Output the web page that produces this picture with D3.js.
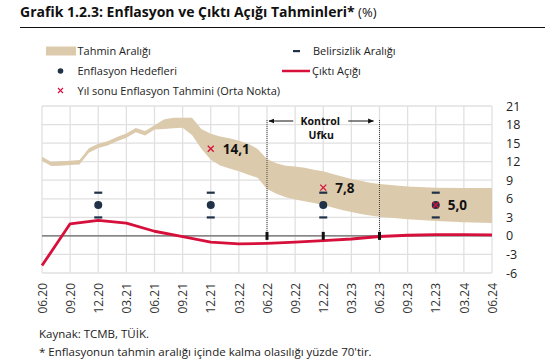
<!DOCTYPE html>
<html>
<head>
<meta charset="utf-8">
<script src="https://cdn.jsdelivr.net/npm/d3@7"></script>
<style>
  body { margin: 0; background: #fff; }
  text { font-family: "Open Sans", sans-serif; }
</style>
</head>
<body>
<div id="chart"></div>
<script>
// eksen etiketleri (çeyrekler)
var quarterLabels = ["06.20","09.20","12.20","03.21","06.21","09.21","12.21","03.22","06.22",
                     "09.22","12.22","03.23","06.23","09.23","12.23","03.24","06.24"];
var yTicks = [21, 18, 15, 12, 9, 6, 3, 0, -3, -6];

// tahmin aralığı (aylık, 06.20'den itibaren ay sayısı)
var bandMonth = [0, 1, 2, 3, 4, 5, 6, 7, 8, 9, 10, 11, 12, 13, 14, 15, 16, 17, 18, 19, 20, 21, 22, 23,
                 24, 25, 26, 27, 28, 29, 30, 31, 32, 33, 34, 35, 36, 39, 42, 45, 48];
var bandLow  = [12.1, 11.3, 11.35, 11.45, 11.55, 13.45, 14.2, 14.6, 15.3, 15.85, 16.75, 16.25, 17.2, 17.3, 17.4, 17.5, 16.3, 14.1, 12.3,
                11.4, 10.9, 10.45, 9.9, 9.4, 7.6, 6.8, 6.25, 5.9, 5.6, 5.3, 5.0, 4.6, 4.2, 3.85, 3.55, 3.3, 3.1, 2.7, 2.4, 2.2, 2.1];
var bandHigh = [12.8, 11.95, 12.05, 12.15, 12.25, 14.15, 14.9, 15.3, 16.0, 16.55, 17.45, 16.95, 17.9, 18.8, 19.1, 19.1, 19.1, 17.3, 16.5,
                16.05, 15.8, 15.4, 14.9, 14.05, 12.45, 11.75, 11.35, 11.2, 11.0, 10.7, 10.45, 10.0, 9.6, 9.2, 8.9, 8.6, 8.4, 8.0, 7.8, 7.75, 7.75];

// çıktı açığı (çeyreklik)
var outputGap = [-4.8, 1.95, 2.5, 2.05, 0.75, -0.1, -1.0, -1.3, -1.2, -1.0, -0.75, -0.5, -0.1, 0.1, 0.2, 0.2, 0.15];

// enflasyon hedefleri ve belirsizlik aralığı
var targetQuarters = ["12.20", "12.21", "12.22", "12.23"];
var targetValues   = [5, 5, 5, 5];
var targetLow      = [3, 3, 3, 3];
var targetHigh     = [7, 7, 7, 7];

// yıl sonu enflasyon tahminleri (orta nokta)
var forecastQuarters = ["12.21", "12.22", "12.23"];
var forecastValues   = [14.1, 7.8, 5.0];
var forecastLabels   = ["14,1", "7,8", "5,0"];

// kontrol ufku
var horizonQuarters = ["06.22", "06.23"];
var horizonTicks = ["06.22", "12.22", "06.23"];

var W = 545, H = 361;
var bandColor = "#dccaad", red = "#d6103b", navy = "#1f3247";

var svg = d3.select("#chart").append("svg")
    .attr("width", W).attr("height", H);

// başlık
var title = svg.append("text").attr("x", 20).attr("y", 17)
    .style("font-size", "14px").attr("fill", "#111");
title.append("tspan").style("font-weight", "bold").text("Grafik 1.2.3: Enflasyon ve Çıktı Açığı Tahminleri*");
title.append("tspan").style("font-size", "13px").text(" (%)");
svg.append("line").attr("x1", 20).attr("x2", W).attr("y1", 27.5).attr("y2", 27.5)
    .attr("stroke", "#111").attr("stroke-width", 1);

var x = d3.scaleLinear().domain([0, 48]).range([42, 492]);
var y = d3.scaleLinear().domain([-6, 21]).range([273, 106]);
function qx(q) { return x(quarterLabels.indexOf(q) * 3); }

// ızgara
var grid = svg.append("g");
grid.selectAll(".v").data(quarterLabels).enter().append("line")
    .attr("x1", function(d, i) { return x(i * 3); }).attr("x2", function(d, i) { return x(i * 3); })
    .attr("y1", y(21)).attr("y2", y(-6))
    .attr("stroke", "#e0e0e0").attr("stroke-width", 1.3);
grid.selectAll(".h").data(yTicks).enter().append("line")
    .attr("x1", x(0)).attr("x2", x(48))
    .attr("y1", function(d) { return y(d); }).attr("y2", function(d) { return y(d); })
    .attr("stroke", "#e0e0e0").attr("stroke-width", 1.3);

// sağ eksen
var yAxis = svg.append("g").attr("transform", "translate(503,0)")
    .call(d3.axisRight(y).tickValues(yTicks).tickSize(0).tickPadding(3)
        .tickFormat(function(d) { return String(d); }));
yAxis.select(".domain").remove();
yAxis.selectAll("text").style("font-size", "12.5px").attr("fill", "#222")
    .style("font-family", "'Open Sans', sans-serif");

// alt eksen (dikey etiketler)
var xAxis = svg.append("g").attr("transform", "translate(0,278)")
    .call(d3.axisBottom(x).tickValues(d3.range(0, 49, 3)).tickSize(0)
        .tickFormat(function(d) { return quarterLabels[d / 3]; }));
xAxis.select(".domain").remove();
xAxis.selectAll("text")
    .attr("transform", "rotate(-90)")
    .attr("text-anchor", "end").attr("x", -5).attr("y", 0).attr("dy", "0.35em")
    .style("font-size", "12px").attr("fill", "#333")
    .style("font-family", "'Open Sans', sans-serif");

// tahmin aralığı alanı
var bandData = bandMonth.map(function(m, i) { return { m: m, lo: bandLow[i], hi: bandHigh[i] }; });
svg.append("path").datum(bandData)
    .attr("fill", bandColor)
    .attr("d", d3.area()
        .x(function(d) { return x(d.m); })
        .y0(function(d) { return y(d.lo); })
        .y1(function(d) { return y(d.hi); }));

// sıfır çizgisi
svg.append("line").attr("x1", x(0)).attr("x2", x(48)).attr("y1", y(0)).attr("y2", y(0))
    .attr("stroke", "#666").attr("stroke-width", 1.3);

// çıktı açığı
svg.append("path").datum(outputGap)
    .attr("fill", "none").attr("stroke", red).attr("stroke-width", 2.8)
    .attr("stroke-linejoin", "round")
    .attr("d", d3.line().x(function(d, i) { return x(i * 3); }).y(function(d) { return y(d); }));

// kontrol ufku
horizonQuarters.forEach(function(q) {
  svg.append("line").attr("x1", qx(q)).attr("x2", qx(q))
      .attr("y1", 120).attr("y2", y(0) + 3)
      .attr("stroke", "#444").attr("stroke-width", 1).attr("stroke-dasharray", "1,1");
});
svg.selectAll(".htick").data(horizonTicks).enter().append("rect")
    .attr("x", function(d) { return qx(d) - 1.5; }).attr("y", y(0) - 4)
    .attr("width", 3).attr("height", 8).attr("fill", "#111");

var defs = svg.append("defs");
defs.append("marker").attr("id", "arr").attr("viewBox", "0 0 10 10")
    .attr("refX", 9).attr("refY", 5).attr("markerWidth", 6).attr("markerHeight", 6)
    .attr("orient", "auto-start-reverse")
    .append("path").attr("d", "M0,1 L10,5 L0,9 z").attr("fill", "#111");
var hx0 = qx(horizonQuarters[0]), hx1 = qx(horizonQuarters[1]), hmid = (hx0 + hx1) / 2;
svg.append("line").attr("x1", hmid - 30).attr("x2", hx0 + 2).attr("y1", 121).attr("y2", 121)
    .attr("stroke", "#111").attr("stroke-width", 1).attr("marker-end", "url(#arr)");
svg.append("line").attr("x1", hmid + 25).attr("x2", hx1 - 6).attr("y1", 121).attr("y2", 121)
    .attr("stroke", "#111").attr("stroke-width", 1).attr("marker-end", "url(#arr)");
svg.append("text").attr("x", hmid - 3).attr("y", 125).attr("text-anchor", "middle")
    .style("font-size", "10.5px").style("font-weight", "bold").attr("fill", "#111").text("Kontrol");
svg.append("text").attr("x", hmid - 2).attr("y", 139).attr("text-anchor", "middle")
    .style("font-size", "10.5px").style("font-weight", "bold").attr("fill", "#111").text("Ufku");

// hedefler ve belirsizlik aralığı
targetQuarters.forEach(function(q, i) {
  [targetLow[i], targetHigh[i]].forEach(function(v) {
    svg.append("rect").attr("x", qx(q) - 4).attr("y", y(v) - 1)
        .attr("width", 8).attr("height", 2.2).attr("fill", navy);
  });
  svg.append("circle").attr("cx", qx(q)).attr("cy", y(targetValues[i])).attr("r", 4).attr("fill", navy);
});

// yıl sonu tahminleri
forecastQuarters.forEach(function(q, i) {
  var cx = qx(q), cy = y(forecastValues[i]);
  svg.append("path").attr("d", "M" + (cx - 3) + "," + (cy - 3) + "L" + (cx + 3) + "," + (cy + 3) +
      "M" + (cx - 3) + "," + (cy + 3) + "L" + (cx + 3) + "," + (cy - 3))
      .attr("stroke", red).attr("stroke-width", 1.3);
  svg.append("text").attr("x", cx + 12).attr("y", cy + 5)
      .style("font-size", "13.5px").style("font-weight", "bold").attr("fill", "#111")
      .text(forecastLabels[i]);
});

// lejant
var lg = svg.append("g").style("font-size", "11px").attr("fill", "#222");
lg.append("rect").attr("x", 46).attr("y", 46.5).attr("width", 30).attr("height", 9).attr("fill", bandColor);
lg.append("text").attr("x", 77.5).attr("y", 55).text("Tahmin Aralığı");
lg.append("circle").attr("cx", 60.5).attr("cy", 71).attr("r", 2.8).attr("fill", navy);
lg.append("text").attr("x", 77.5).attr("y", 75).text("Enflasyon Hedefleri");
lg.append("path").attr("d", "M58,88 L63,93 M58,93 L63,88").attr("stroke", red).attr("stroke-width", 1.1);
lg.append("text").attr("x", 77.5).attr("y", 95).text("Yıl sonu Enflasyon Tahmini (Orta Nokta)");
lg.append("rect").attr("x", 293).attr("y", 50).attr("width", 7).attr("height", 2.2).attr("fill", navy);
lg.append("text").attr("x", 313).attr("y", 55).text("Belirsizlik Aralığı");
lg.append("line").attr("x1", 282).attr("x2", 310).attr("y1", 71).attr("y2", 71)
    .attr("stroke", red).attr("stroke-width", 2.5);
lg.append("text").attr("x", 312).attr("y", 75).text("Çıktı Açığı");

// kaynak
svg.append("text").attr("x", 39).attr("y", 338).style("font-size", "11.5px").attr("fill", "#222")
    .text("Kaynak: TCMB, TÜİK.");
svg.append("text").attr("x", 39).attr("y", 356).style("font-size", "11.5px").attr("fill", "#222")
    .text("* Enflasyonun tahmin aralığı içinde kalma olasılığı yüzde 70'tir.");
</script>
</body>
</html>
